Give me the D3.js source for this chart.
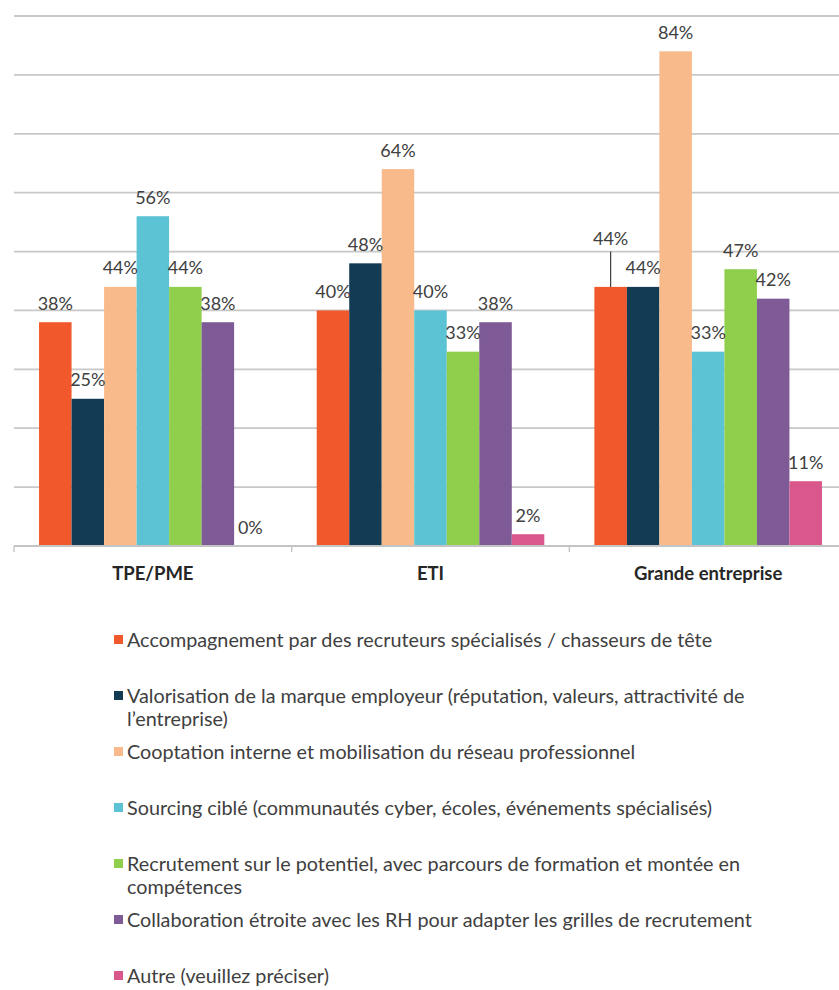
<!DOCTYPE html>
<html lang="fr">
<head>
<meta charset="utf-8">
<script src="https://cdn.jsdelivr.net/npm/d3@7"></script>
<style>
  html, body { margin: 0; padding: 0; background: #ffffff; }
  svg { display: block; font-family: Lato, "Open Sans", "Liberation Sans", sans-serif; }
</style>
</head>
<body>
<svg id="chart" width="839" height="990"></svg>
<script>
// Company size groups along the x axis
const categories = ["TPE/PME", "ETI", "Grande entreprise"];

// Recruitment levers (one bar per lever in each group)
const seriesNames = [
  "Accompagnement par des recruteurs spécialisés / chasseurs de tête",
  "Valorisation de la marque employeur (réputation, valeurs, attractivité de l’entreprise)",
  "Cooptation interne et mobilisation du réseau professionnel",
  "Sourcing ciblé (communautés cyber, écoles, événements spécialisés)",
  "Recrutement sur le potentiel, avec parcours de formation et montée en compétences",
  "Collaboration étroite avec les RH pour adapter les grilles de recrutement",
  "Autre (veuillez préciser)"
];

const seriesColors = ["#f1582b", "#143b54", "#f9ba8b", "#5cc3d5", "#8fcf4c", "#7e5b96", "#d9578b"];

// Share of respondents (%) per lever, in the order of categories
const accompagnement = [38, 40, 44];
const marqueEmployeur = [25, 48, 44];
const cooptation = [44, 64, 84];
const sourcing = [56, 40, 33];
const potentiel = [44, 33, 47];
const collaborationRH = [38, 38, 42];
const autre = [0, 2, 11];

const seriesValues = [accompagnement, marqueEmployeur, cooptation, sourcing, potentiel, collaborationRH, autre];

// Gridline values (no tick labels are shown on the value axis)
const gridValues = [10, 20, 30, 40, 50, 60, 70, 80, 90];

const svg = d3.select("#chart");

const plot = { left: 14, right: 847, top: 16, bottom: 546 };

const x0 = d3.scaleBand()
  .domain(categories)
  .range([plot.left, plot.right])
  .padding(0);

const x1 = d3.scaleBand()
  .domain(d3.range(seriesNames.length))
  .range([0, x0.bandwidth()])
  .paddingInner(0)
  .paddingOuter(0.77);

const y = d3.scaleLinear()
  .domain([0, 90])
  .range([plot.bottom, plot.top]);

// Horizontal gridlines
svg.append("g")
  .selectAll("line")
  .data(gridValues)
  .join("line")
  .attr("x1", plot.left)
  .attr("x2", plot.right)
  .attr("y1", d => y(d))
  .attr("y2", d => y(d))
  .attr("stroke", "#c8c8c8")
  .attr("stroke-width", 1.8);

// Bars
const rows = [];
categories.forEach((c, ci) => {
  seriesValues.forEach((vals, si) => {
    rows.push({ category: c, ci, si, value: vals[ci] });
  });
});

svg.append("g")
  .selectAll("rect")
  .data(rows)
  .join("rect")
  .attr("x", d => x0(d.category) + x1(d.si))
  .attr("y", d => y(d.value))
  .attr("width", x1.bandwidth())
  .attr("height", d => y(0) - y(d.value))
  .attr("fill", d => seriesColors[d.si]);

// Category axis: baseline with ticks between the groups
const axis = svg.append("g");
axis.append("line")
  .attr("x1", plot.left).attr("x2", plot.right)
  .attr("y1", y(0)).attr("y2", y(0))
  .attr("stroke", "#c4c4c4")
  .attr("stroke-width", 1.8);

axis.selectAll("line.tick")
  .data(categories.map(c => x0(c)).concat([plot.right]))
  .join("line")
  .attr("class", "tick")
  .attr("x1", d => d).attr("x2", d => d)
  .attr("y1", y(0)).attr("y2", y(0) + 6)
  .attr("stroke", "#c4c4c4")
  .attr("stroke-width", 1.4);

axis.selectAll("text")
  .data(categories)
  .join("text")
  .attr("x", d => x0(d) + x0.bandwidth() / 2)
  .attr("y", y(0) + 34)
  .attr("text-anchor", "middle")
  .attr("font-size", 18.5)
  .attr("font-weight", 700)
  .attr("fill", "#262626")
  .text(d => d);

// Data labels above each bar; the first Grande entreprise label sits higher with a leader line
const lifted = { ci: 2, si: 0, rise: 29 };
const labelGap = 12.5;

const labels = svg.append("g");
rows.forEach(d => {
  const cx = x0(d.category) + x1(d.si) + x1.bandwidth() / 2;
  const top = y(d.value);
  const isLifted = d.ci === lifted.ci && d.si === lifted.si;
  const base = top - labelGap - (isLifted ? lifted.rise : 0);
  if (isLifted) {
    labels.append("line")
      .attr("x1", cx).attr("x2", cx)
      .attr("y1", base + 6).attr("y2", top)
      .attr("stroke", "#404040")
      .attr("stroke-width", 1.2);
  }
  labels.append("text")
    .attr("x", cx)
    .attr("y", base)
    .attr("text-anchor", "middle")
    .attr("font-size", 18)
    .attr("fill", "#404040")
    .text(d.value + "%");
});

// Legend: one slot per lever, long entries wrap onto a second line
const legend = svg.append("g");
const legendX = 114, legendTop = 640, slot = 56, lineGap = 22.5, maxWidth = 660;
const legendFont = 19.8;

seriesNames.forEach((name, i) => {
  const cy = legendTop + i * slot;
  legend.append("rect")
    .attr("x", legendX)
    .attr("y", cy - 5)
    .attr("width", 9)
    .attr("height", 9)
    .attr("fill", seriesColors[i]);

  const text = legend.append("text")
    .attr("x", legendX + 13)
    .attr("y", cy + 7)
    .attr("font-size", legendFont)
    .attr("fill", "#404040");

  const words = name.split(" ");
  let line = [];
  let lineNo = 0;
  let tspan = text.append("tspan").attr("x", legendX + 13).attr("y", cy + 7);
  words.forEach(w => {
    line.push(w);
    tspan.text(line.join(" "));
    if (tspan.node().getComputedTextLength() > maxWidth && line.length > 1) {
      line.pop();
      tspan.text(line.join(" "));
      line = [w];
      lineNo += 1;
      tspan = text.append("tspan")
        .attr("x", legendX + 13)
        .attr("y", cy + 7 + lineNo * lineGap)
        .text(w);
    }
  });
});
</script>
</body>
</html>
